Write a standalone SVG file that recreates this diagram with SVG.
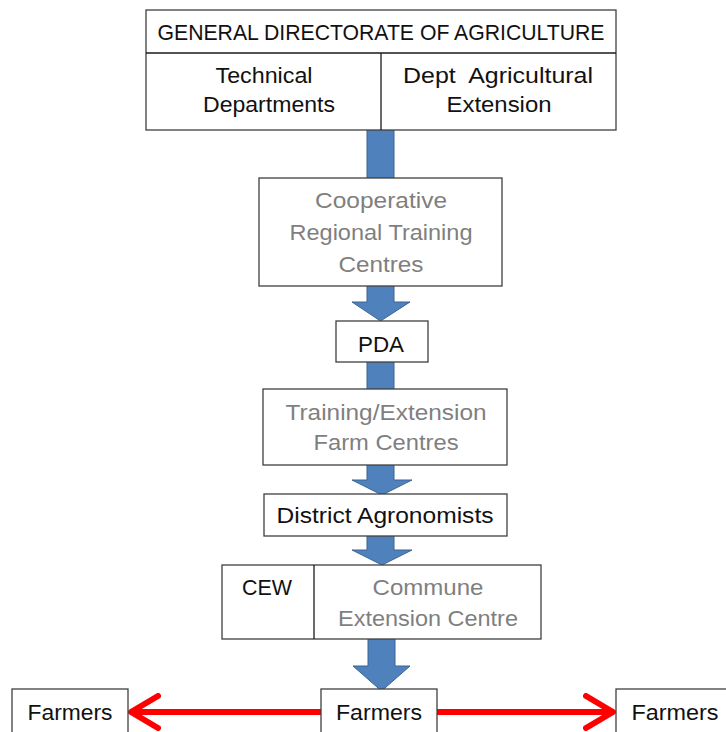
<svg xmlns="http://www.w3.org/2000/svg" width="726" height="732" viewBox="0 0 726 732">
  <style>
    .box { fill: #ffffff; stroke: #3f3f3f; stroke-width: 1.3; }
    .div { stroke: #1a1a1a; stroke-width: 1.3; }
    .t { font-family: "Liberation Sans", Arial, sans-serif; font-size: 22.5px; text-anchor: middle; fill: #111111; }
    .g { fill: #7f7f7f; }
    .blue { fill: #4f81bd; stroke: #3a6592; stroke-width: 1; }
    .red { stroke: #ff0000; stroke-width: 6; fill: none; }
  </style>
  <defs>
    <marker id="redhead" viewBox="0 0 40 40" markerUnits="userSpaceOnUse" markerWidth="40" markerHeight="40" refX="30" refY="20" orient="auto">
      <path d="M 3 4 L 30 20 L 3 36" fill="none" stroke="#ff0000" stroke-width="6" stroke-linecap="round" stroke-linejoin="round"/>
    </marker>
  </defs>
  <rect width="726" height="732" fill="#ffffff"/>

  <g id="connectors">
    <rect class="blue" x="367" y="128" width="27" height="52"/>
    <path class="blue" d="M367 284 L394 284 L394 302 L410 302 L380.5 321 L352 302 L367 302 Z"/>
    <rect class="blue" x="367" y="360" width="27" height="31"/>
    <path class="blue" d="M367 463 L394 463 L394 480 L412 480 L382 495 L352 480 L367 480 Z"/>
    <path class="blue" d="M367 534 L394 534 L394 550 L412 550 L382 565 L352 550 L367 550 Z"/>
    <path class="blue" d="M368 637 L395 637 L395 666 L410 666 L381.5 691 L353 666 L368 666 Z"/>
    <line class="red" x1="321" y1="712" x2="131" y2="712" marker-end="url(#redhead)"/>
    <line class="red" x1="437" y1="712" x2="613" y2="712" marker-end="url(#redhead)"/>
  </g>

  <g id="general-directorate">
    <rect class="box" x="146" y="10" width="470" height="120"/>
    <line class="div" x1="146" y1="53" x2="616" y2="53"/>
    <line class="div" x1="381" y1="53" x2="381" y2="130"/>
    <text class="t" x="381" y="40" textLength="447" lengthAdjust="spacingAndGlyphs">GENERAL DIRECTORATE OF AGRICULTURE</text>
    <text class="t" x="264" y="83" textLength="97" lengthAdjust="spacingAndGlyphs">Technical</text>
    <text class="t" x="269" y="112" textLength="132" lengthAdjust="spacingAndGlyphs">Departments</text>
    <text class="t" x="498" y="83" textLength="190" lengthAdjust="spacingAndGlyphs" xml:space="preserve">Dept  Agricultural</text>
    <text class="t" x="499" y="112" textLength="105" lengthAdjust="spacingAndGlyphs">Extension</text>
  </g>

  <g id="cooperative-centres">
    <rect class="box" x="259" y="178" width="243" height="108"/>
    <text class="t g" x="381" y="208" textLength="132" lengthAdjust="spacingAndGlyphs">Cooperative</text>
    <text class="t g" x="381" y="240" textLength="183" lengthAdjust="spacingAndGlyphs">Regional Training</text>
    <text class="t g" x="381" y="272" textLength="85" lengthAdjust="spacingAndGlyphs">Centres</text>
  </g>

  <g id="pda">
    <rect class="box" x="336" y="321" width="92" height="41"/>
    <text class="t" x="381" y="352" textLength="46" lengthAdjust="spacingAndGlyphs">PDA</text>
  </g>

  <g id="training-extension">
    <rect class="box" x="263" y="389" width="244" height="76"/>
    <text class="t g" x="386" y="420" textLength="201" lengthAdjust="spacingAndGlyphs">Training/Extension</text>
    <text class="t g" x="386" y="450" textLength="145" lengthAdjust="spacingAndGlyphs">Farm Centres</text>
  </g>

  <g id="district-agronomists">
    <rect class="box" x="264" y="494" width="243" height="42"/>
    <text class="t" x="385" y="523" textLength="217" lengthAdjust="spacingAndGlyphs">District Agronomists</text>
  </g>

  <g id="commune">
    <rect class="box" x="222" y="565" width="319" height="74"/>
    <line class="div" x1="314" y1="565" x2="314" y2="639"/>
    <text class="t" x="267" y="595" textLength="50" lengthAdjust="spacingAndGlyphs">CEW</text>
    <text class="t g" x="428" y="595" textLength="111" lengthAdjust="spacingAndGlyphs">Commune</text>
    <text class="t g" x="428" y="626" textLength="180" lengthAdjust="spacingAndGlyphs">Extension Centre</text>
  </g>

  <g id="farmers-left">
    <rect class="box" x="12" y="689" width="116" height="50"/>
    <text class="t" x="70" y="720" textLength="85" lengthAdjust="spacingAndGlyphs">Farmers</text>
  </g>

  <g id="farmers-centre">
    <rect class="box" x="321" y="689" width="116" height="50"/>
    <text class="t" x="379" y="720" textLength="86" lengthAdjust="spacingAndGlyphs">Farmers</text>
  </g>

  <g id="farmers-right">
    <rect class="box" x="616" y="689" width="116" height="50"/>
    <text class="t" x="675" y="720" textLength="87" lengthAdjust="spacingAndGlyphs">Farmers</text>
  </g>
</svg>
